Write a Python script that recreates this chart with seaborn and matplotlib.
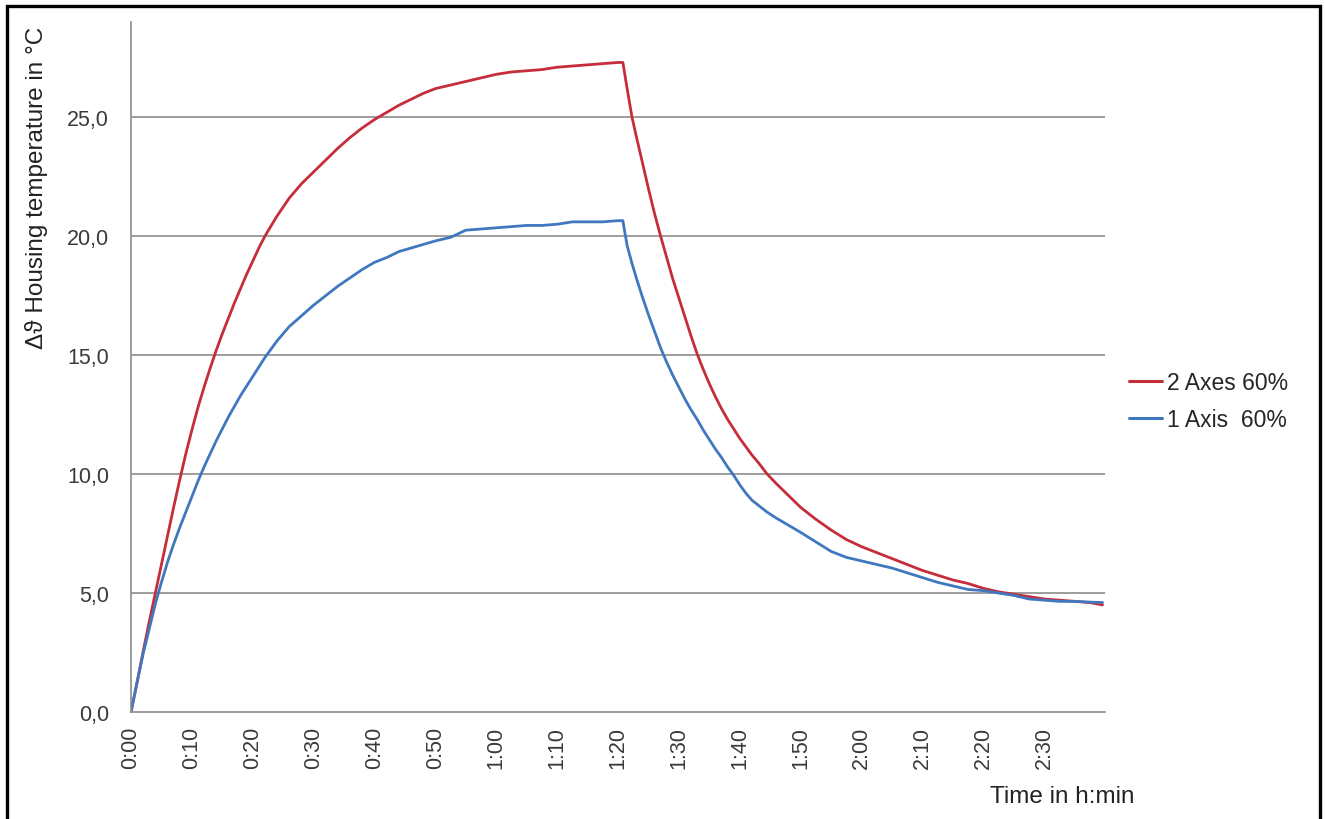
import numpy as np
import pandas as pd
import matplotlib
matplotlib.use("Agg")
import matplotlib.pyplot as plt
from matplotlib.patches import Rectangle
from matplotlib.lines import Line2D
import seaborn as sns

# ---- data ----
time_min = [0, 1, 2, 3, 4, 5, 6, 7, 8, 9, 10, 11, 12, 13, 14, 15, 16, 17, 18, 19, 20, 21, 22,
            24, 26, 28, 30, 32, 34, 36, 38, 40, 42, 44, 46, 48, 50,
            52.5, 55, 57.5, 60, 62.5, 65, 67.5, 70, 72.5, 75, 77.5, 80,
            80.8, 81.5, 82.3, 83,
            84, 85, 86, 87, 88, 89, 90, 91, 92, 93, 94, 95, 96, 97, 98, 99, 100, 101, 102, 103,
            104.5, 106, 108, 110,
            112.5, 115, 117.5, 120, 122.5, 125, 127.5, 130, 132.5, 135, 137.5, 140, 142.5,
            145, 147.5, 150, 152.5, 155, 157.5,
            159.6]

two_axes = [0, 1.25, 2.55, 3.8, 5.0, 6.2, 7.4, 8.6, 9.75, 10.85, 11.85, 12.8, 13.65, 14.45,
            15.2, 15.9, 16.55, 17.2, 17.8, 18.4, 18.95, 19.5, 20.0,
            20.85, 21.6, 22.2, 22.7, 23.2, 23.7, 24.15, 24.55, 24.9, 25.2, 25.5, 25.75, 26.0, 26.2,
            26.35, 26.5, 26.65, 26.8, 26.9, 26.95, 27.0, 27.1, 27.15, 27.2, 27.25, 27.3,
            27.3, 26.2, 25.0, 24.2,
            23.1, 22.0, 20.95, 20.0, 19.1, 18.2, 17.4, 16.6, 15.8, 15.05, 14.4, 13.8, 13.25,
            12.75, 12.3, 11.9, 11.5, 11.15, 10.8, 10.5,
            10.0, 9.6, 9.1, 8.6,
            8.1, 7.65, 7.25, 6.95, 6.7, 6.45, 6.2, 5.95, 5.75, 5.55, 5.4, 5.2, 5.05,
            4.95, 4.85, 4.75, 4.7, 4.65, 4.6,
            4.5]

one_axis = [0, 1.25, 2.45, 3.5, 4.55, 5.45, 6.3, 7.05, 7.75, 8.4, 9.05, 9.7, 10.3, 10.85,
            11.4, 11.9, 12.4, 12.85, 13.3, 13.7, 14.1, 14.5, 14.9,
            15.6, 16.2, 16.65, 17.1, 17.5, 17.9, 18.25, 18.6, 18.9, 19.1, 19.35, 19.5, 19.65, 19.8,
            19.95, 20.25, 20.3, 20.35, 20.4, 20.45, 20.45, 20.5, 20.6, 20.6, 20.6, 20.65,
            20.65, 19.6, 18.85, 18.25,
            17.45, 16.7, 16.0, 15.3, 14.7, 14.15, 13.65, 13.15, 12.7, 12.3, 11.85, 11.45, 11.05,
            10.7, 10.3, 9.95, 9.55, 9.2, 8.9, 8.7,
            8.4, 8.15, 7.85, 7.55,
            7.15, 6.75, 6.5, 6.35, 6.2, 6.05, 5.85, 5.65, 5.45, 5.3, 5.15, 5.1, 5.0,
            4.9, 4.75, 4.7, 4.65, 4.65, 4.62,
            4.6]

series_names = ["2 Axes 60%", "1 Axis  60%"]
series_colors = ["#C62D3A", "#3F78BF"]

x_ticks = [0, 10, 20, 30, 40, 50, 60, 70, 80, 90, 100, 110, 120, 130, 140, 150]
x_tick_labels = ["0:00", "0:10", "0:20", "0:30", "0:40", "0:50", "1:00", "1:10",
                 "1:20", "1:30", "1:40", "1:50", "2:00", "2:10", "2:20", "2:30"]
y_ticks = [0, 5, 10, 15, 20, 25]
y_tick_labels = ["0,0", "5,0", "10,0", "15,0", "20,0", "25,0"]

df = pd.DataFrame({
    "time": time_min * 2,
    "value": two_axes + one_axis,
    "series": [series_names[0]] * len(time_min) + [series_names[1]] * len(time_min),
})

# ---- style ----
sns.set_theme(style="white")
plt.rcParams["font.family"] = ["Liberation Sans", "DejaVu Sans"]

W, H = 1325, 820
fig = plt.figure(figsize=(W / 100, H / 100), dpi=100)
ax = fig.add_axes([131 / W, 1 - 713 / H, (1105 - 131) / W, (713 - 23) / H])

sns.lineplot(data=df, x="time", y="value", hue="series", hue_order=series_names,
             palette=series_colors, linewidth=2.0, ax=ax, legend=False,
             estimator=None, sort=False)

ax.set_xlim(0, 160)
ax.set_ylim(0, 29)

grid_col = "#8C8C8C"
for v in y_ticks[1:]:
    ax.axhline(v, color=grid_col, lw=1.2, zorder=0)

for s in ["top", "right"]:
    ax.spines[s].set_visible(False)
for s in ["left", "bottom"]:
    ax.spines[s].set_color(grid_col)
    ax.spines[s].set_linewidth(1.2)

ax.set_xticks(x_ticks)
ax.set_xticklabels(x_tick_labels, rotation=90, fontsize=15.5, color="#3A3A3A")
ax.set_yticks(y_ticks)
ax.set_yticklabels(y_tick_labels, fontsize=15.5, color="#3A3A3A")
ax.tick_params(axis="x", direction="inout", length=8, width=1.2, color=grid_col, pad=6)
ax.tick_params(axis="y", direction="out", length=5.8, width=1.2, color=grid_col, pad=10)
ax.set_xlabel("")
ax.set_ylabel("")

fig.text(37 / W, 1 - 27 / H, "Δϑ Housing temperature in °C", rotation=90,
         ha="center", va="top", fontsize=17.5, color="#222222")
fig.text(1062 / W, 1 - 797 / H, "Time in h:min", ha="center", va="center",
         fontsize=17.5, color="#222222")

handles = [Line2D([0], [0], color=c, lw=2.2) for c in series_colors]
fig.legend(handles, series_names, loc="center left",
           bbox_to_anchor=(1129 / W, 1 - 402 / H), frameon=False,
           fontsize=16.5, handlelength=1.45, handletextpad=0.22,
           labelspacing=0.6, borderpad=0, borderaxespad=0)

fig.patches.append(Rectangle((7 / W, -0.05), (1320 - 7) / W, 1.05 - 7 / H,
                             transform=fig.transFigure, fill=False,
                             edgecolor="black", linewidth=2.4))

fig.savefig("out.png", dpi=100)
